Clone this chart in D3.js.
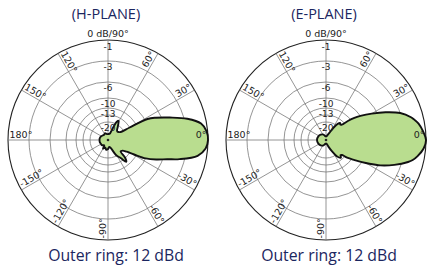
<!DOCTYPE html>
<html>
<head>
<meta charset="utf-8">
<script src="https://cdn.jsdelivr.net/npm/d3@7"></script>
<style>
  body { margin: 0; background: #fff; }
  svg { display: block; }
</style>
</head>
<body>
<div id="viz"></div>
<script>
// panel titles and footer
const titles = ["(H-PLANE)", "(E-PLANE)"];
const footer = "Outer ring: 12 dBd";

// grid rings (dB) and the labels printed on the vertical axis
const ringDb = [0, -3, -6, -10, -13, -16, -20];
const ringLabels = [-1, -3, -6, -10, -13, -20];
const spokeAngles = [0, 30, 60, 90, 120, 150, 180, -150, -120, -90, -60, -30];

// measured patterns: angle (deg, ccw from right) and level (dB)
const hAngles = [0, 5, 10, 15, 20, 25, 28, 30, 32, 36, 42, 48, 53, 57, 61, 64, 67, 70, 75, 85, 100, 110, 115, 125, 140, 155, 170, 180,
  -165, -150, -140, -125, -120, -110, -100, -90, -80, -70, -62, -55, -50, -46, -42, -36, -32, -29, -26, -22, -18, -15, -10, -5];
const hDb = [0, -1.0, -1.45, -2.7, -4.9, -7.3, -9.3, -16, -23.3, -25, -26, -25, -22, -19.5, -17.8, -18.5, -23, -30, -32.8, -33.3, -33.3, -32.2, -31.7, -32.8, -32.2, -31.1, -30.6, -30.6,
  -30.6, -31.1, -31.1, -32.8, -29, -31.1, -28.9, -30, -32.2, -30, -21.1, -17.7, -14.5, -16.2, -21.1, -20, -17.7, -13.9, -10, -7.5, -5.4, -3.7, -1.8, -1.1];

const eAngles = [0, 5, 10, 13, 15, 20, 25, 30, 35, 38, 41, 44, 47, 50, 54, 58, 62, 70, 80, 90, 100, 115, 135, 155, 180,
  -155, -135, -115, -100, -90, -80, -70, -62, -56, -50, -46, -43, -40, -35, -30, -27, -25, -20, -15, -13, -10, -5];
const eDb = [0, -1.15, -1.5, -1.85, -2.1, -3, -4.9, -7.3, -10, -11.8, -14.3, -17.7, -18.3, -17.7, -18.9, -23.3, -28.9, -33.3, -35.6, -36.1, -35.6, -33.3, -31.7, -30.6, -30,
  -30.6, -31.7, -33.3, -35.6, -36.1, -35.6, -32.2, -25.6, -18.9, -17.1, -18.3, -17.7, -14.9, -12.1, -9, -7, -5.7, -3.9, -2.4, -2, -1.6, -1.1];

const width = 427;
const height = 273;
const R = 100;

// radial scale of the chart: dB -> fraction of the outer radius
const rScale = d3.scaleLinear()
  .domain([-40, -20, -16, -13, -10, -6, -3, -1, 0])
  .range([0, 0.18, 0.25, 0.32, 0.42, 0.58, 0.79, 0.99, 1])
  .clamp(true);

const svg = d3.select("#viz")
  .append("svg")
  .attr("width", width)
  .attr("height", height);

const navy = "#1b2660";

function drawPanel(cx, footX, title, angles, db) {
  const g = svg.append("g").attr("transform", `translate(${cx},140)`);

  svg.append("text")
    .attr("x", cx - 2).attr("y", 19)
    .attr("text-anchor", "middle")
    .attr("font-family", "Open Sans")
    .attr("font-size", 14.5)
    .attr("fill", navy)
    .text(title);

  svg.append("text")
    .attr("x", footX).attr("y", 261)
    .attr("text-anchor", "middle")
    .attr("font-family", "Open Sans")
    .attr("font-size", 15.8)
    .attr("fill", navy)
    .text(footer);

  // rings
  g.selectAll("circle.ring")
    .data(ringDb)
    .enter().append("circle")
    .attr("class", "ring")
    .attr("r", d => rScale(d) * R)
    .attr("fill", "none")
    .attr("stroke", d => d === 0 ? "#222" : "#7a7a7a")
    .attr("stroke-width", d => d === 0 ? 1.1 : 0.8);

  // spokes
  g.selectAll("line.spoke")
    .data(spokeAngles)
    .enter().append("line")
    .attr("class", "spoke")
    .attr("x1", 0).attr("y1", 0)
    .attr("x2", d => R * Math.cos(d * Math.PI / 180))
    .attr("y2", d => -R * Math.sin(d * Math.PI / 180))
    .attr("stroke", "#7a7a7a")
    .attr("stroke-width", 0.8);

  // pattern
  const pts = angles.map((a, i) => [a, db[i]]);
  const line = d3.lineRadial()
    .angle(d => (90 - d[0]) * Math.PI / 180)
    .radius(d => rScale(d[1]) * R)
    .curve(d3.curveCatmullRomClosed.alpha(0.5));

  g.append("path")
    .attr("d", line(pts))
    .attr("fill", "#b9dd8f")
    .attr("stroke", "#111")
    .attr("stroke-width", 1.9)
    .attr("stroke-linejoin", "round");

  g.append("circle").attr("r", 1.3).attr("fill", "#222");

  // ring labels
  g.selectAll("text.rl")
    .data(ringLabels)
    .enter().append("text")
    .attr("class", "rl")
    .attr("x", 0)
    .attr("y", d => -rScale(d) * R + 8.5)
    .attr("text-anchor", "middle")
    .attr("font-family", "DejaVu Sans")
    .attr("font-size", 9)
    .attr("fill", "#222")
    .text(d => d);

  // spoke labels
  g.selectAll("text.al")
    .data(spokeAngles.filter(a => a !== 90))
    .enter().append("text")
    .attr("class", "al")
    .attr("transform", d => {
      const x = 0.985 * R * Math.cos(d * Math.PI / 180);
      const y = -0.985 * R * Math.sin(d * Math.PI / 180);
      const left = d > 90 || d <= -90;
      const rot = left ? 180 - d : -d;
      return `translate(${x},${y}) rotate(${rot})`;
    })
    .attr("dy", -2)
    .attr("text-anchor", d => (d > 90 || d <= -90) ? "start" : "end")
    .attr("font-family", "DejaVu Sans")
    .attr("font-size", 9.5)
    .attr("fill", "#222")
    .text(d => d + "°");

  g.append("text")
    .attr("x", 0).attr("y", -R - 3)
    .attr("text-anchor", "middle")
    .attr("font-family", "DejaVu Sans")
    .attr("font-size", 9.5)
    .attr("fill", "#222")
    .text("0 dB/90°");
}

drawPanel(108, 116, titles[0], hAngles, hDb);
drawPanel(326, 329, titles[1], eAngles, eDb);
</script>
</body>
</html>
